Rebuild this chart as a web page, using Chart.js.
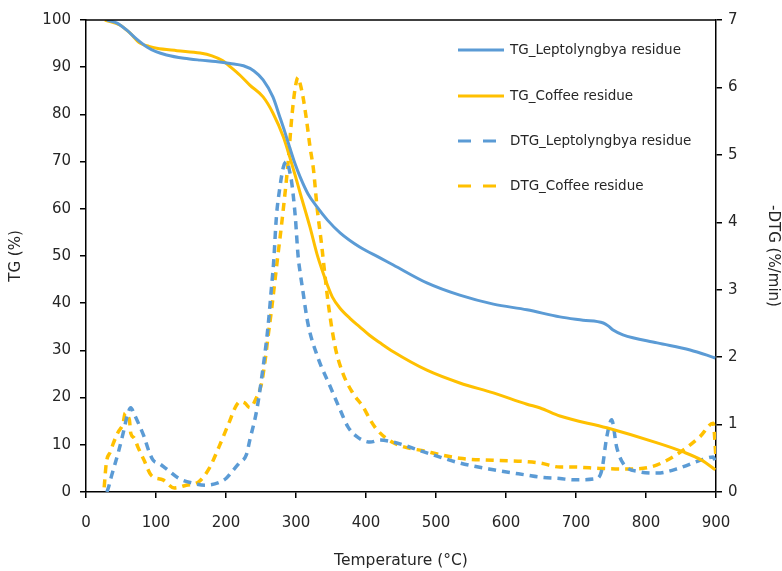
<html>
<head>
<script src="https://cdn.jsdelivr.net/npm/chart.js@4.4.1/dist/chart.umd.min.js"></script>
<style>
    body { margin: 0; background: #fff; }
</style>
</head>
<body>
<canvas id="myChart" width="782" height="571"></canvas>
<script>
    // TG_Leptolyngbya residue
    var tempTgLepto = [30, 45, 58, 72, 87, 100, 115, 140, 163, 185, 206, 225, 240, 253, 267, 277, 284, 291, 298, 306, 317, 330, 345, 363, 391, 420, 439, 487, 534, 582, 630, 677, 710, 739, 746, 753, 767, 816, 863, 899]
    var tgLepto = [100, 99.3, 97.9, 96, 94.3, 93.3, 92.6, 91.9, 91.5, 91.2, 90.8, 90.3, 89.2, 87.3, 83.7, 79.4, 76.3, 73, 69.8, 66.7, 63.2, 60.4, 57.6, 54.9, 51.9, 49.6, 48.1, 44.3, 41.7, 39.8, 38.6, 37.1, 36.4, 35.8, 35.2, 34.3, 33.3, 31.6, 30.1, 28.4]

    // TG_Coffee residue
    var tempTgCoffee = [27, 49, 63, 77, 90, 101, 130, 163, 180, 195, 206, 220, 234, 253, 267, 282, 291, 299, 306, 320, 330, 339, 345, 352, 362, 377, 391, 405, 420, 439, 487, 534, 582, 630, 649, 677, 744, 816, 853, 880, 899]
    var tgCoffee = [100, 98.9, 97.2, 95.1, 94.4, 94, 93.5, 93, 92.4, 91.4, 90.1, 88.3, 86.2, 83.7, 80.3, 75.2, 71, 67, 63.3, 56.1, 50.4, 46.3, 43.8, 41.3, 39.1, 36.8, 35.0, 33.2, 31.6, 29.7, 25.8, 23.1, 21, 18.6, 17.8, 16.1, 13.6, 10.4, 8.5, 6.7, 4.7]

    // DTG_Leptolyngbya residue
    var tempDtgLepto = [30, 33, 36, 41, 46, 53, 60, 64, 69, 74, 83, 90, 96, 105, 114, 133, 153, 171, 190, 200, 210, 219, 229, 234, 244, 253, 260, 265, 268, 272, 277, 282, 287, 291, 294, 299, 303, 306, 309, 317, 331, 349, 363, 374, 387, 406, 420, 439, 487, 534, 582, 630, 649, 677, 696, 730, 737, 744, 751, 758, 767, 791, 816, 849, 877, 896, 900]
    var dtgLepto = [0, 0.1, 0.22, 0.4, 0.58, 0.87, 1.17, 1.25, 1.15, 1.04, 0.82, 0.6, 0.47, 0.42, 0.35, 0.2, 0.13, 0.1, 0.14, 0.2, 0.32, 0.43, 0.55, 0.77, 1.22, 1.85, 2.45, 3.04, 3.4, 4.08, 4.52, 4.82, 4.9, 4.75, 4.58, 4.08, 3.5, 3.25, 3.04, 2.5, 2.0, 1.56, 1.22, 0.97, 0.82, 0.74, 0.77, 0.74, 0.58, 0.43, 0.33, 0.25, 0.22, 0.2, 0.18, 0.2, 0.33, 0.82, 1.07, 0.67, 0.43, 0.3, 0.28, 0.36, 0.47, 0.52, 0.4]

    // DTG_Coffee residue
    var tempDtgCoffee = [26, 29, 35, 39, 46, 50, 53, 56, 59, 62, 64, 69, 74, 83, 93, 110, 126, 143, 161, 176, 190, 204, 214, 220, 227, 234, 244, 251, 256, 260, 265, 270, 274, 279, 289, 294, 299, 303, 306, 310, 315, 320, 325, 330, 337, 341, 346, 356, 367, 381, 396, 406, 416, 439, 487, 534, 582, 630, 649, 677, 696, 734, 767, 806, 830, 853, 877, 896, 900]
    var dtgCoffee = [0.07, 0.43, 0.6, 0.72, 0.89, 0.95, 1.02, 1.17, 1.12, 1.07, 0.87, 0.8, 0.67, 0.47, 0.25, 0.18, 0.06, 0.1, 0.15, 0.35, 0.67, 1.02, 1.27, 1.34, 1.32, 1.25, 1.41, 1.62, 1.96, 2.3, 2.7, 3.14, 3.5, 3.93, 4.92, 5.56, 6.0, 6.15, 6.05, 5.86, 5.52, 5.12, 4.78, 4.23, 3.63, 3.25, 2.8, 2.15, 1.76, 1.47, 1.26, 1.07, 0.92, 0.73, 0.6, 0.5, 0.47, 0.45, 0.43, 0.37, 0.37, 0.35, 0.34, 0.37, 0.47, 0.62, 0.82, 1.02, 0.5]

    var xTicks = [0, 100, 200, 300, 400, 500, 600, 700, 800, 900]

    var blue = '#5B9BD5'
    var gold = '#FFC000'

    function toPoints(xs, ys) {
        let data = []
        for (let i = 0; i < xs.length; i++) {
            data.push({ x: xs[i], y: ys[i] })
        }
        return data
    }

    Chart.defaults.font.family = "DejaVu Sans";
    Chart.defaults.font.size = 15;
    Chart.defaults.color = "#262626";

    // legend drawn inside the plot, like the original
    const legendItems = [
        { text: 'TG_Leptolyngbya residue', color: blue, dash: [] },
        { text: 'TG_Coffee residue', color: gold, dash: [] },
        { text: 'DTG_Leptolyngbya residue', color: blue, dash: [13, 12] },
        { text: 'DTG_Coffee residue', color: gold, dash: [13, 12] },
    ]
    const legendRows = [50, 96, 141, 186]

    const framePlugin = {
        id: 'frame',
        afterDraw(chart) {
            const ctx = chart.ctx
            const area = chart.chartArea
            ctx.save()
            ctx.strokeStyle = '#000'
            ctx.lineWidth = 1.5
            ctx.beginPath()
            ctx.moveTo(area.left, area.top)
            ctx.lineTo(area.right, area.top)
            ctx.stroke()

            ctx.font = '13.5px "DejaVu Sans"'
            ctx.textBaseline = 'middle'
            legendItems.forEach((item, i) => {
                let y = legendRows[i]
                ctx.strokeStyle = item.color
                ctx.lineWidth = 3
                ctx.setLineDash(item.dash)
                ctx.beginPath()
                ctx.moveTo(458, y)
                ctx.lineTo(504, y)
                ctx.stroke()
                ctx.setLineDash([])
                ctx.fillStyle = '#262626'
                ctx.fillText(item.text, 510, y)
            })
            ctx.restore()
        }
    }

    function axisLine() {
        return { display: true, color: '#000', width: 1.5 }
    }

    function tickGrid() {
        return { display: true, drawOnChartArea: false, drawTicks: true, tickLength: 6, color: '#000', lineWidth: 1.5 }
    }

    const chart = new Chart(document.getElementById('myChart'), {
        type: 'line',
        data: {
            datasets: [
                {
                    label: 'TG_Leptolyngbya residue',
                    data: toPoints(tempTgLepto, tgLepto),
                    borderColor: blue,
                    borderWidth: 3,
                    yAxisID: 'y',
                },
                {
                    label: 'TG_Coffee residue',
                    data: toPoints(tempTgCoffee, tgCoffee),
                    borderColor: gold,
                    borderWidth: 3,
                    yAxisID: 'y',
                },
                {
                    label: 'DTG_Leptolyngbya residue',
                    data: toPoints(tempDtgLepto, dtgLepto),
                    borderColor: blue,
                    borderWidth: 3.5,
                    borderDash: [8, 6],
                    yAxisID: 'y1',
                },
                {
                    label: 'DTG_Coffee residue',
                    data: toPoints(tempDtgCoffee, dtgCoffee),
                    borderColor: gold,
                    borderWidth: 3.5,
                    borderDash: [8, 6],
                    yAxisID: 'y1',
                },
            ]
        },
        options: {
            responsive: false,
            animation: false,
            layout: { padding: { top: 20 } },
            elements: {
                point: { radius: 0 },
                line: { cubicInterpolationMode: 'monotone', fill: false }
            },
            plugins: {
                legend: { display: false },
                tooltip: { enabled: false }
            },
            scales: {
                x: {
                    type: 'linear',
                    min: 0,
                    max: 900,
                    afterBuildTicks: (axis) => { axis.ticks = xTicks.map(v => ({ value: v })) },
                    afterFit: (axis) => { axis.height = 79 },
                    grid: tickGrid(),
                    border: axisLine(),
                    ticks: { padding: 16 },
                    title: { display: true, text: 'Temperature (°C)', font: { size: 15.5 }, padding: { top: 0, bottom: 1 } }
                },
                y: {
                    position: 'left',
                    min: 0,
                    max: 100,
                    ticks: { stepSize: 10, padding: 9 },
                    afterFit: (axis) => { axis.width = 86 },
                    grid: tickGrid(),
                    border: axisLine(),
                    title: { display: true, text: 'TG (%)', padding: { top: 7, bottom: 0 } }
                },
                y1: {
                    position: 'right',
                    min: 0,
                    max: 7,
                    ticks: { stepSize: 1, padding: 6 },
                    afterFit: (axis) => { axis.width = 66 },
                    grid: tickGrid(),
                    border: axisLine(),
                    title: { display: true, text: '-DTG (%/min)', padding: { top: 0, bottom: 3 } }
                }
            }
        },
        plugins: [framePlugin]
    });
</script>
</body>
</html>
